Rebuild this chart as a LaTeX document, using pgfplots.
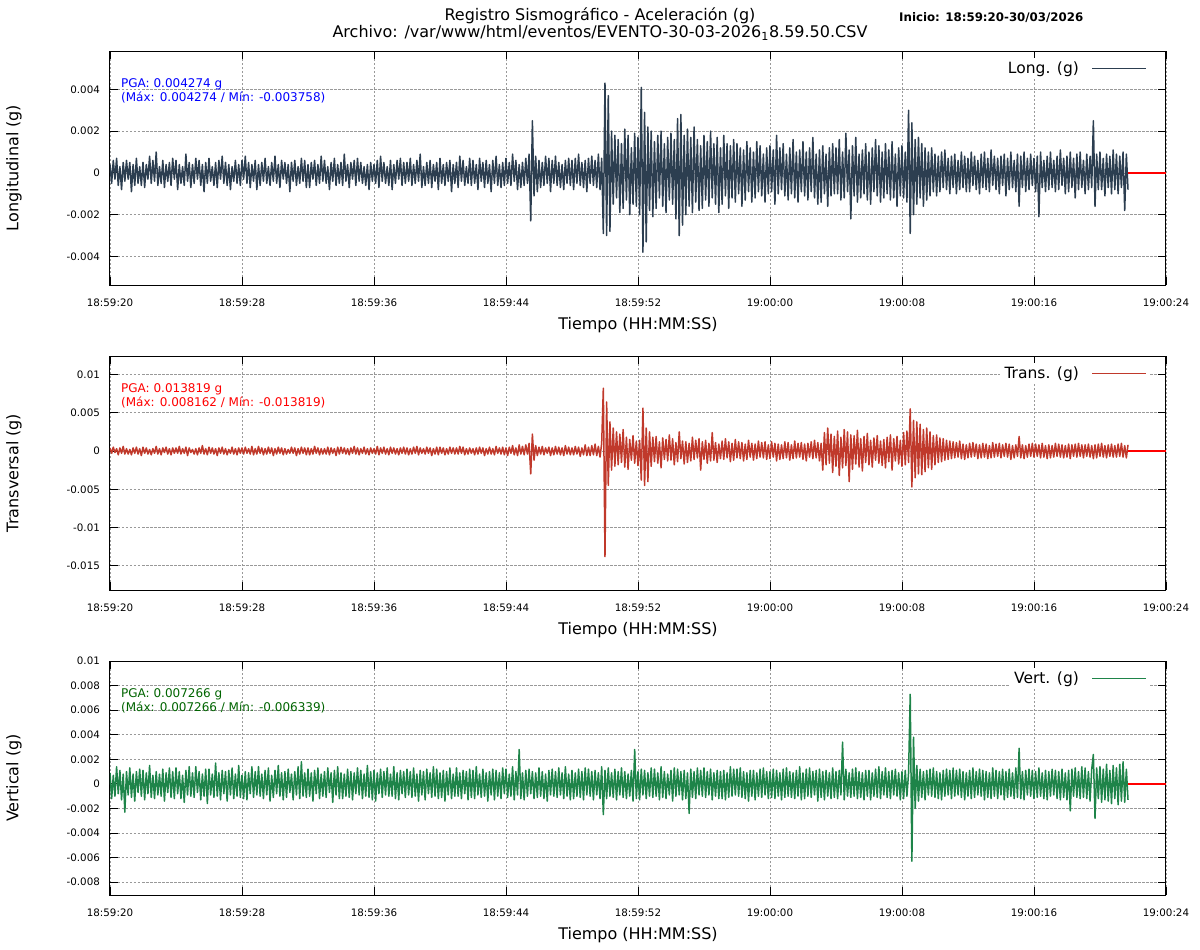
\documentclass[border=0pt]{standalone}
\usepackage{pgfplots}
\usepackage{pgfplotstable}
\pgfplotsset{compat=1.18}
\usepackage{fontspec}
\setmainfont{DejaVu Sans}
\definecolor{cL}{HTML}{2C3E50}
\definecolor{cT}{HTML}{C0392B}
\definecolor{cV}{HTML}{1E8449}
\definecolor{pgaG}{HTML}{006400}

% Longitudinal, units of 1e-4 g, one value every 0.1 s
\pgfplotstableread[row sep=\\,header=false]{
4\\-5\\6\\-3\\7\\-6\\3\\-8\\5\\-4\\
6\\-3\\5\\-9\\4\\-6\\7\\-5\\3\\-6\\
5\\-7\\4\\-3\\8\\-5\\6\\-4\\10\\-6\\
3\\-5\\6\\-7\\4\\-4\\5\\-6\\7\\-3\\
6\\-8\\4\\-5\\3\\-6\\9\\-4\\5\\-7\\
4\\-5\\7\\-3\\6\\-6\\4\\-9\\5\\-5\\
7\\-4\\3\\-6\\5\\-7\\6\\-3\\8\\-5\\
5\\-6\\4\\-8\\3\\-4\\6\\-5\\4\\-6\\
6\\-3\\8\\-5\\5\\-7\\4\\-4\\6\\-8\\
4\\-6\\5\\-4\\7\\-5\\3\\-6\\5\\-4\\
8\\-5\\4\\-7\\6\\-3\\5\\-5\\4\\-9\\
5\\-4\\6\\-6\\3\\-5\\7\\-4\\6\\-7\\
4\\-7\\5\\-3\\6\\-6\\4\\-5\\8\\-4\\
6\\-5\\3\\-8\\5\\-4\\7\\-6\\4\\-5\\
5\\-6\\9\\-4\\4\\-7\\5\\-3\\6\\-6\\
7\\-4\\5\\-5\\3\\-6\\4\\-8\\5\\-4\\
4\\-5\\6\\-7\\8\\-4\\5\\-5\\3\\-6\\
6\\-8\\4\\-5\\6\\-3\\7\\-6\\5\\-5\\
5\\-4\\7\\-6\\4\\-5\\6\\-4\\9\\-7\\
3\\-6\\5\\-5\\6\\-7\\4\\-4\\5\\-8\\
7\\-5\\4\\-6\\5\\-4\\6\\-9\\4\\-5\\
5\\-7\\8\\-4\\6\\-6\\3\\-5\\7\\-6\\
6\\-5\\4\\-8\\7\\-4\\5\\-7\\6\\-5\\
4\\-9\\6\\-5\\8\\-6\\4\\-7\\5\\-6\\
7\\-5\\5\\-6\\9\\-4\\6\\-8\\4\\-7\\
5\\-6\\7\\-5\\9\\-23\\25\\-11\\8\\-9\\
6\\-7\\5\\-6\\8\\-5\\7\\-9\\6\\-5\\
8\\-6\\5\\-7\\4\\-8\\6\\-5\\7\\-6\\
6\\-8\\7\\-5\\9\\-6\\5\\-7\\6\\-9\\
7\\-5\\8\\-6\\6\\-7\\9\\-8\\7\\-29\\
43\\-30\\37\\-28\\20\\-15\\18\\-12\\16\\-19\\
14\\-17\\21\\-13\\18\\-20\\12\\-15\\19\\-16\\
17\\-20\\41\\-38\\29\\-33\\22\\-18\\20\\-21\\
15\\-17\\18\\-12\\20\\-16\\14\\-19\\17\\-13\\
19\\-15\\16\\-22\\26\\-30\\28\\-25\\18\\-20\\
21\\-16\\17\\-19\\22\\-14\\16\\-18\\13\\-17\\
18\\-13\\15\\-16\\20\\-12\\14\\-15\\17\\-19\\
12\\-15\\18\\-11\\14\\-17\\13\\-12\\16\\-14\\
14\\-10\\12\\-16\\11\\-13\\15\\-9\\12\\-14\\
10\\-12\\15\\-9\\13\\-11\\9\\-14\\12\\-10\\
13\\-9\\11\\-15\\18\\-10\\12\\-8\\14\\-11\\
9\\-13\\12\\-10\\16\\-12\\10\\-14\\11\\-9\\
15\\-11\\10\\-13\\12\\-9\\17\\-12\\9\\-15\\
11\\-14\\13\\-10\\9\\-16\\12\\-11\\14\\-10\\
12\\-10\\16\\-13\\10\\-12\\19\\-9\\11\\-22\\
13\\-11\\17\\-14\\9\\-12\\11\\-10\\14\\-13\\
10\\-15\\12\\-9\\16\\-11\\13\\-14\\10\\-12\\
14\\-10\\11\\-13\\15\\-12\\9\\-16\\12\\-11\\
13\\-12\\10\\-14\\30\\-29\\24\\-20\\16\\-15\\
17\\-12\\14\\-16\\12\\-13\\10\\-11\\12\\-9\\
9\\-11\\8\\-9\\10\\-7\\11\\-8\\7\\-10\\
8\\-7\\9\\-10\\6\\-8\\10\\-7\\8\\-9\\
7\\-9\\10\\-6\\8\\-8\\6\\-10\\9\\-7\\
10\\-8\\7\\-9\\11\\-6\\8\\-8\\7\\-10\\
8\\-6\\9\\-11\\7\\-8\\10\\-7\\6\\-9\\
9\\-16\\8\\-7\\10\\-9\\7\\-8\\9\\-6\\
7\\-9\\8\\-21\\10\\-7\\6\\-9\\8\\-8\\
10\\-7\\6\\-9\\8\\-8\\11\\-6\\7\\-10\\
8\\-9\\10\\-7\\7\\-12\\9\\-8\\10\\-7\\
6\\-10\\9\\-8\\8\\-7\\25\\-16\\9\\-8\\
10\\-8\\7\\-11\\9\\-7\\8\\-10\\11\\-8\\
9\\-10\\8\\-7\\10\\-18\\9\\-8\\
}\tabL

% Transversal
\pgfplotstableread[row sep=\\,header=false]{
4\\-3\\5\\-2\\3\\-5\\4\\-3\\6\\-4\\
3\\-4\\2\\-5\\4\\-3\\5\\-4\\3\\-6\\
5\\-3\\4\\-4\\2\\-5\\3\\-3\\6\\-4\\
3\\-5\\4\\-2\\5\\-4\\3\\-5\\4\\-3\\
4\\-3\\6\\-4\\3\\-3\\5\\-6\\4\\-2\\
2\\-4\\3\\-5\\4\\-3\\7\\-4\\3\\-5\\
5\\-3\\4\\-4\\3\\-6\\4\\-3\\5\\-4\\
3\\-5\\2\\-3\\5\\-4\\3\\-5\\4\\-3\\
4\\-4\\5\\-3\\3\\-4\\6\\-5\\3\\-4\\
6\\-3\\4\\-5\\3\\-4\\5\\-3\\4\\-6\\
3\\-4\\5\\-3\\4\\-5\\3\\-4\\2\\-3\\
5\\-3\\4\\-6\\3\\-4\\5\\-3\\4\\-5\\
4\\-5\\3\\-4\\6\\-3\\4\\-5\\3\\-4\\
3\\-4\\5\\-5\\4\\-3\\3\\-6\\5\\-4\\
5\\-3\\4\\-4\\3\\-5\\4\\-3\\6\\-4\\
4\\-5\\3\\-3\\5\\-4\\3\\-5\\4\\-3\\
3\\-4\\6\\-5\\4\\-3\\5\\-4\\3\\-5\\
5\\-3\\4\\-4\\3\\-5\\4\\-3\\5\\-4\\
4\\-5\\3\\-4\\5\\-3\\6\\-5\\4\\-3\\
3\\-4\\5\\-3\\4\\-6\\3\\-4\\5\\-5\\
5\\-3\\4\\-5\\3\\-4\\5\\-3\\4\\-4\\
4\\-4\\6\\-3\\5\\-5\\3\\-4\\4\\-3\\
3\\-5\\4\\-4\\5\\-3\\4\\-6\\3\\-4\\
5\\-4\\3\\-5\\6\\-3\\4\\-4\\5\\-5\\
4\\-6\\5\\-3\\7\\-5\\4\\-6\\8\\-4\\
6\\-5\\8\\-4\\10\\-30\\22\\-12\\7\\-6\\
5\\-4\\6\\-5\\4\\-3\\5\\-6\\4\\-5\\
6\\-4\\5\\-5\\4\\-6\\7\\-4\\5\\-5\\
4\\-5\\6\\-4\\5\\-7\\4\\-5\\8\\-6\\
5\\-6\\7\\-5\\9\\-6\\6\\-8\\10\\82\\
-138\\64\\-45\\38\\-25\\30\\-20\\25\\-18\\22\\
-15\\28\\-21\\18\\-24\\15\\-12\\20\\-16\\13\\
-19\\14\\-38\\56\\-45\\30\\-40\\25\\-20\\18\\
-14\\19\\-16\\12\\-22\\17\\-11\\15\\-13\\21\\
-12\\16\\-18\\11\\-14\\25\\-10\\13\\-17\\12\\
-15\\10\\-13\\18\\-11\\14\\-9\\16\\-25\\12\\
-11\\14\\-16\\10\\-13\\24\\-12\\11\\-15\\9\\
-10\\13\\-11\\16\\-9\\12\\-14\\10\\-12\\15\\
-9\\12\\-10\\11\\-13\\9\\-11\\14\\-8\\10\\
-12\\9\\-10\\13\\-8\\11\\-9\\12\\-11\\8\\
-10\\12\\-8\\10\\-13\\9\\-11\\8\\-10\\12\\
-9\\11\\-12\\8\\-10\\13\\-9\\10\\-8\\11\\
-11\\9\\-13\\10\\-8\\12\\-10\\14\\-9\\11\\
-13\\10\\-25\\24\\-18\\30\\-16\\22\\-28\\19\\
-20\\26\\-32\\18\\-22\\28\\-19\\25\\-40\\21\\
-24\\20\\-17\\27\\-21\\16\\-26\\19\\-15\\23\\
-18\\14\\-21\\17\\-12\\20\\-16\\13\\-19\\15\\
-22\\18\\-14\\21\\-25\\16\\-13\\19\\-17\\14\\
-20\\24\\-18\\26\\-15\\55\\-47\\40\\-35\\38\\
-30\\35\\-31\\28\\-27\\30\\-22\\25\\-24\\20\\
-18\\21\\-15\\17\\-14\\16\\-12\\14\\-11\\13\\
-10\\12\\-9\\11\\-8\\13\\-10\\9\\-11\\8\\
-9\\10\\-8\\11\\-7\\9\\-10\\8\\-9\\10\\
-8\\9\\-10\\7\\-9\\11\\-8\\9\\-7\\10\\
-9\\8\\-7\\10\\-8\\9\\-11\\7\\-9\\8\\
-7\\19\\-9\\8\\-10\\7\\-8\\9\\-7\\10\\
-8\\9\\-7\\8\\-9\\10\\-8\\7\\-10\\8\\
-9\\7\\-8\\10\\-7\\9\\-8\\8\\-9\\7\\
-8\\9\\-10\\8\\-7\\9\\-8\\10\\-7\\8\\
-9\\8\\-7\\9\\-8\\7\\-10\\8\\-9\\9\\
-7\\10\\-8\\7\\-9\\8\\-7\\9\\-8\\7\\
-8\\9\\-7\\10\\-8\\7\\-9\\8\\
}\tabT

% Vertical
\pgfplotstableread[row sep=\\,header=false]{
9\\-12\\7\\-10\\14\\-8\\11\\-13\\8\\-23\\
10\\-9\\13\\-11\\8\\-14\\10\\-7\\12\\-10\\
11\\-13\\9\\-8\\15\\-11\\7\\-12\\10\\-9\\
8\\-10\\12\\-14\\9\\-7\\13\\-11\\10\\-12\\
13\\-8\\10\\-12\\7\\-15\\11\\-9\\14\\-10\\
9\\-11\\14\\-7\\10\\-13\\8\\-10\\12\\-16\\
12\\-9\\8\\-11\\17\\-10\\9\\-13\\11\\-8\\
10\\-14\\11\\-9\\13\\-12\\8\\-10\\15\\-11\\
7\\-12\\10\\-13\\9\\-8\\14\\-11\\10\\-9\\
14\\-10\\8\\-12\\11\\-9\\13\\-14\\7\\-11\\
11\\-8\\15\\-10\\9\\-13\\10\\-11\\12\\-7\\
8\\-13\\10\\-9\\14\\-12\\18\\-10\\9\\-11\\
12\\-10\\9\\-14\\11\\-8\\13\\-12\\8\\-10\\
10\\-11\\13\\-7\\9\\-15\\11\\-9\\14\\-12\\
9\\-12\\8\\-10\\12\\-11\\10\\-13\\9\\-8\\
13\\-9\\11\\-12\\8\\-10\\15\\-11\\10\\-13\\
11\\-14\\9\\-8\\12\\-11\\10\\-9\\13\\-10\\
8\\-10\\14\\-12\\9\\-13\\11\\-8\\10\\-11\\
12\\-9\\10\\-11\\13\\-10\\8\\-14\\11\\-9\\
10\\-13\\12\\-8\\9\\-11\\14\\-10\\12\\-12\\
9\\-11\\11\\-14\\10\\-9\\13\\-12\\8\\-10\\
13\\-10\\9\\-12\\11\\-8\\10\\-13\\12\\-11\\
11\\-12\\14\\-9\\8\\-11\\12\\-10\\9\\-14\\
10\\-9\\12\\-13\\11\\-10\\9\\-12\\13\\-8\\
12\\-11\\8\\-10\\14\\-13\\10\\-9\\28\\-12\\
9\\-13\\11\\-10\\12\\-8\\10\\-12\\9\\-11\\
13\\-10\\10\\-12\\8\\-14\\11\\-9\\12\\-10\\
10\\-11\\13\\-9\\9\\-12\\14\\-10\\8\\-13\\
11\\-12\\9\\-10\\12\\-11\\10\\-13\\13\\-9\\
12\\-10\\10\\-13\\11\\-9\\9\\-12\\14\\-25\\
11\\-12\\13\\-10\\9\\-11\\12\\-13\\10\\-9\\
13\\-11\\10\\-12\\8\\-10\\11\\-14\\28\\-12\\
10\\-13\\12\\-9\\11\\-12\\9\\-10\\13\\-11\\
12\\-10\\9\\-13\\14\\-11\\10\\-12\\8\\-9\\
11\\-14\\13\\-10\\12\\-9\\10\\-13\\11\\-12\\
9\\-24\\12\\-11\\10\\-12\\13\\-9\\11\\-10\\
13\\-11\\10\\-9\\12\\-13\\9\\-10\\11\\-12\\
10\\-12\\11\\-13\\9\\-11\\14\\-10\\12\\-9\\
12\\-10\\13\\-11\\10\\-12\\9\\-14\\11\\-10\\
11\\-13\\9\\-10\\12\\-11\\13\\-9\\10\\-12\\
10\\-11\\12\\-12\\11\\-10\\9\\-13\\12\\-11\\
13\\-10\\10\\-11\\9\\-12\\11\\-10\\14\\-13\\
9\\-12\\12\\-10\\13\\-11\\10\\-9\\11\\-14\\
12\\-11\\10\\-13\\11\\-10\\9\\-12\\13\\-11\\
10\\-12\\11\\-9\\34\\-13\\12\\-10\\9\\-11\\
12\\-10\\13\\-12\\10\\-11\\9\\-13\\11\\-10\\
11\\-13\\9\\-10\\12\\-11\\14\\-12\\10\\-9\\
13\\-11\\10\\-12\\11\\-9\\12\\-10\\9\\-13\\
10\\-12\\11\\-10\\9\\73\\-63\\38\\-20\\15\\
-14\\12\\-11\\10\\-13\\11\\-9\\12\\-10\\13\\
-11\\10\\-12\\9\\-13\\11\\-10\\12\\-9\\11\\
-12\\13\\-10\\11\\-9\\12\\-11\\10\\-13\\9\\
-10\\11\\-12\\13\\-11\\10\\-9\\12\\-10\\11\\
-13\\10\\-11\\9\\-12\\13\\-10\\11\\-12\\10\\
-9\\12\\-13\\10\\-11\\12\\-10\\9\\-12\\13\\
-11\\29\\-12\\10\\-13\\11\\-9\\12\\-10\\11\\
-12\\10\\-11\\13\\-10\\9\\-12\\11\\-13\\10\\
-10\\12\\-9\\11\\-12\\10\\-13\\12\\-11\\9\\
-13\\11\\-22\\12\\-10\\13\\-11\\10\\-12\\14\\
-11\\13\\-12\\10\\-14\\12\\24\\-28\\13\\-12\\
14\\-15\\12\\-13\\16\\-14\\11\\-16\\15\\-12\\
13\\-17\\16\\-14\\18\\-15\\12\\-13\\
}\tabV

\pgfplotsset{
  legend image code/.code={\path (0pt,0pt); \draw[#1] (11pt,0pt) -- (65pt,0pt);},
  seis/.style={
    scale only axis, width=1056pt, height=234pt,
    xmin=0, xmax=64,
    xtick={0,8,16,24,32,40,48,56,64},
    xticklabels={18:59:20,18:59:28,18:59:36,18:59:44,18:59:52,19:00:00,19:00:08,19:00:16,19:00:24},
    grid=major,
    major grid style={draw=black!40, dash pattern=on 2.5pt off 1.5pt, line width=0.8pt},
    tick align=inside, major tick length=8pt,
    tick style={black, line width=0.9pt},
    axis line style={black, line width=1pt},
    tick label style={font=\fontsize{10.3}{12}\selectfont},
    xticklabel style={yshift=-10pt},
    yticklabel style={/pgf/number format/fixed, /pgf/number format/precision=3,
      /pgf/number format/assume math mode=true, xshift=-6.6pt},
    scaled y ticks=false,
    xlabel={Tiempo (HH:MM:SS)},
    xlabel style={at={(axis description cs:0.5,-0.171)}, anchor=center},
    ylabel style={at={(axis description cs:-0.0909,0.5)}, anchor=center},
    legend plot pos=right,
    legend style={at={(axis description cs:0.985,0.972)}, anchor=north east,
      draw=none, fill=white, font=\fontsize{15.5}{18}\selectfont},
  },
  sig/.style={line width=1.5pt, line join=round},
  zline/.style={color=red, line width=1.3pt, forget plot},
}

\begin{document}
\begin{tikzpicture}[font=\fontsize{16}{19}\selectfont]
\useasboundingbox (0,0) rectangle (1200pt,-950pt);

% Panel 1
\begin{axis}[seis, at={(110pt,-285pt)}, anchor=south west,
  ymin=-0.00537, ymax=0.00584, ytick={-0.004,-0.002,0,0.002,0.004},
  ylabel={Longitudinal (g)}]
\addplot[sig, cL, forget plot] table[x expr=\coordindex*0.1, y index=0, y expr=\thisrowno{0}*0.0001] {\tabL};
\addplot[zline] coordinates {(61.7,0) (64,0)};
\addlegendimage{cL, line width=1pt}
\addlegendentry{Long. (g)}
\node[anchor=north west, align=left, text=blue, inner sep=0pt, font=\fontsize{12}{13.4}\selectfont]
  at (axis description cs:0.0104,0.8825) {PGA: 0.004274 g\\(Máx: 0.004274 / Mín: -0.003758)};
\end{axis}

% Panel 2
\begin{axis}[seis, at={(110pt,-590pt)}, anchor=south west,
  ymin=-0.01815, ymax=0.0124, ytick={-0.015,-0.01,-0.005,0,0.005,0.01},
  ylabel={Transversal (g)}]
\addplot[sig, cT, forget plot] table[x expr=\coordindex*0.1, y index=0, y expr=\thisrowno{0}*0.0001] {\tabT};
\addplot[zline] coordinates {(61.7,0) (64,0)};
\addlegendimage{cT, line width=1pt}
\addlegendentry{Trans. (g)}
\node[anchor=north west, align=left, text=red, inner sep=0pt, font=\fontsize{12}{13.4}\selectfont]
  at (axis description cs:0.0104,0.8825) {PGA: 0.013819 g\\(Máx: 0.008162 / Mín: -0.013819)};
\end{axis}

% Panel 3
\begin{axis}[seis, at={(110pt,-895pt)}, anchor=south west,
  ymin=-0.00905, ymax=0.01001, ytick={-0.008,-0.006,-0.004,-0.002,0,0.002,0.004,0.006,0.008,0.01},
  ylabel={Vertical (g)}]
\addplot[sig, cV, forget plot] table[x expr=\coordindex*0.1, y index=0, y expr=\thisrowno{0}*0.0001] {\tabV};
\addplot[zline] coordinates {(61.7,0) (64,0)};
\addlegendimage{cV, line width=1pt}
\addlegendentry{Vert. (g)}
\node[anchor=north west, align=left, text=pgaG, inner sep=0pt, font=\fontsize{12}{13.4}\selectfont]
  at (axis description cs:0.0104,0.8825) {PGA: 0.007266 g\\(Máx: 0.007266 / Mín: -0.006339)};
\end{axis}

% Titles
\node[font=\fontsize{16}{18}\selectfont] at (600pt,-16pt) {Registro Sismográfico - Aceleración (g)};
\node[font=\fontsize{16}{18}\selectfont] at (600pt,-33pt) {Archivo: /var/www/html/eventos/EVENTO-30-03-2026\textsubscript{1}8.59.50.CSV};
\node[anchor=west, inner sep=0pt, font=\bfseries\fontsize{11.8}{14}\selectfont] at (899pt,-18pt) {Inicio: 18:59:20-30/03/2026};
\end{tikzpicture}
\end{document}
